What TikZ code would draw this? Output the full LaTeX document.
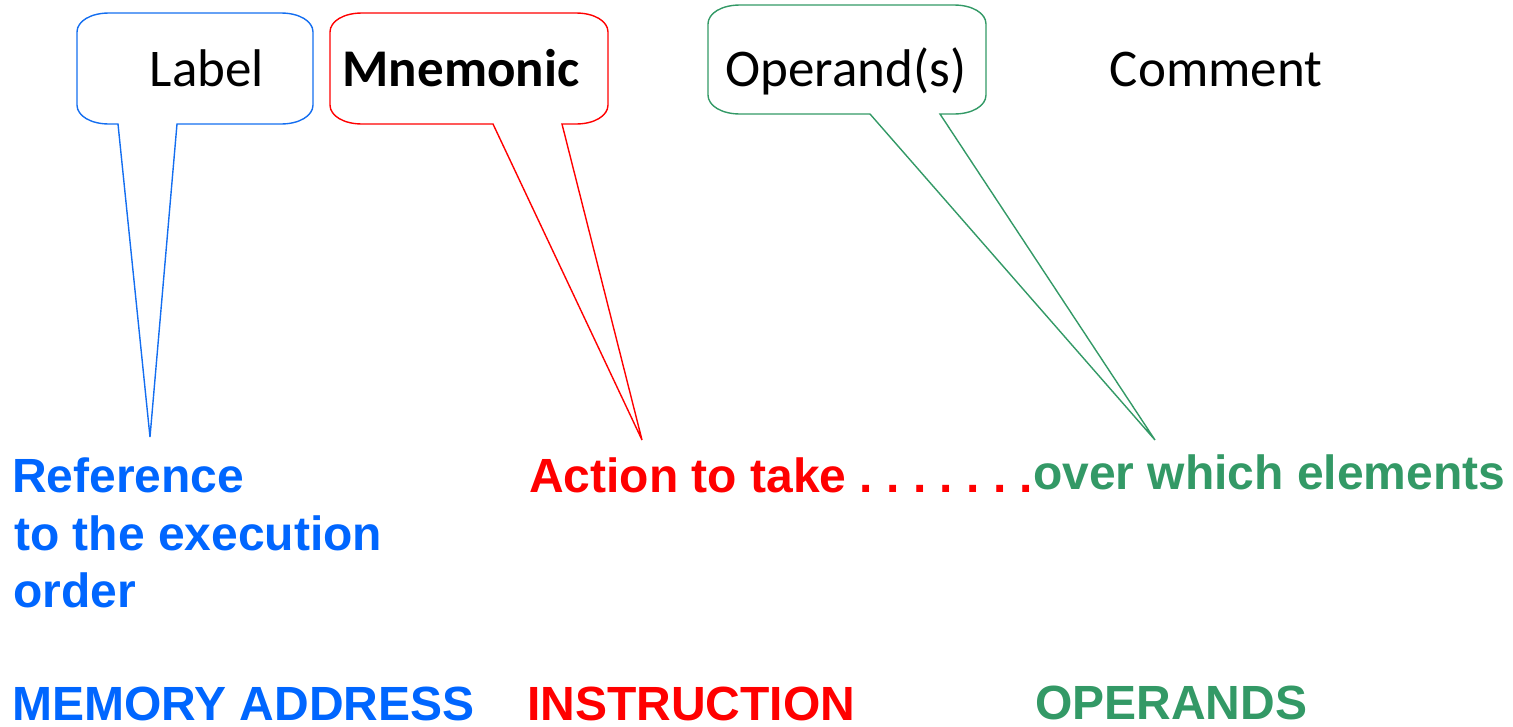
\documentclass[tikz,border=0pt]{standalone}
\usepackage{fontspec}
\setmainfont{Carlito}
\newfontfamily\arialfont{Liberation Sans}
\definecolor{cblue}{RGB}{0,102,255}
\definecolor{cred}{RGB}{255,0,0}
\definecolor{cgreen}{RGB}{51,153,102}
\definecolor{bblue}{RGB}{20,110,240}
% speech bubble: colour, left, top, right, bottom, pointer base x1, x2, tip x, tip y
\newcommand{\bubble}[9]{%
  \draw[#1, line width=1.4pt, line join=miter]
    ({#2+32},#3) -- ({#4-32},#3)
    .. controls ({#4-14},#3) and (#4,{#3+8}) .. (#4,{#3+19})
    -- (#4,{#5-19})
    .. controls (#4,{#5-8}) and ({#4-14},#5) .. ({#4-32},#5)
    -- (#7,#5) -- (#8,#9) -- (#6,#5)
    -- ({#2+32},#5)
    .. controls ({#2+14},#5) and (#2,{#5-8}) .. (#2,{#5-19})
    -- (#2,{#3+19})
    .. controls (#2,{#3+8}) and ({#2+14},#3) .. ({#2+32},#3) -- cycle;}
\tikzset{
  toptext/.style={inner sep=0pt, anchor=base, font=\fontsize{53}{60}\selectfont},
  bottomtext/.style={inner sep=0pt, anchor=base west, font=\arialfont\bfseries\fontsize{48}{57.5}\selectfont\frenchspacing},
  captext/.style={bottomtext, text depth=0pt},
}
\begin{document}
\begin{tikzpicture}[x=1pt,y=-1pt]
\useasboundingbox (0,0) rectangle (1513,726);

% callout outlines with their pointer tips
\coordinate (tipL) at (150,437);
\coordinate (tipM) at (642,440);
\coordinate (tipO) at (1155,440);
\bubble{bblue}{77}{13}{313}{124}{118}{177}{150}{437}
\bubble{cred}{330}{13}{608}{124}{493}{562}{642}{440}
\bubble{cgreen}{708}{5}{986}{114}{870}{940}{1155}{440}

% field names of an assembly line
\node[toptext] (label) at (207,86) {Label};
\node[toptext] (mnem) at (461,86) {\bfseries Mnemonic};
\node[toptext] (oper) at (846,86) {Operand(s)};
\node[toptext] (comm) at (1216,86) {Comment};

% explanations
\node[bottomtext, text=cblue] (ref1) at (12,492) {Reference};
\node[bottomtext, text=cblue] (ref2) at (14,550) {to the execution};
\node[bottomtext, text=cblue] (ref3) at (13,607) {order};
\node[bottomtext, text=cred] (action) at (529,492) {Action to take . . . . . . .};
\node[bottomtext, text=cgreen] (over) at (1033,489) {over which elements};

% categories (all capitals, no descenders)
\node[captext, text=cblue] (mem) at (12,720) {MEMORY ADDRESS};
\node[captext, text=cred] (instr) at (527,720) {INSTRUCTION};
\node[captext, text=cgreen] (opnds) at (1035,719) {OPERANDS};
\end{tikzpicture}
\end{document}
